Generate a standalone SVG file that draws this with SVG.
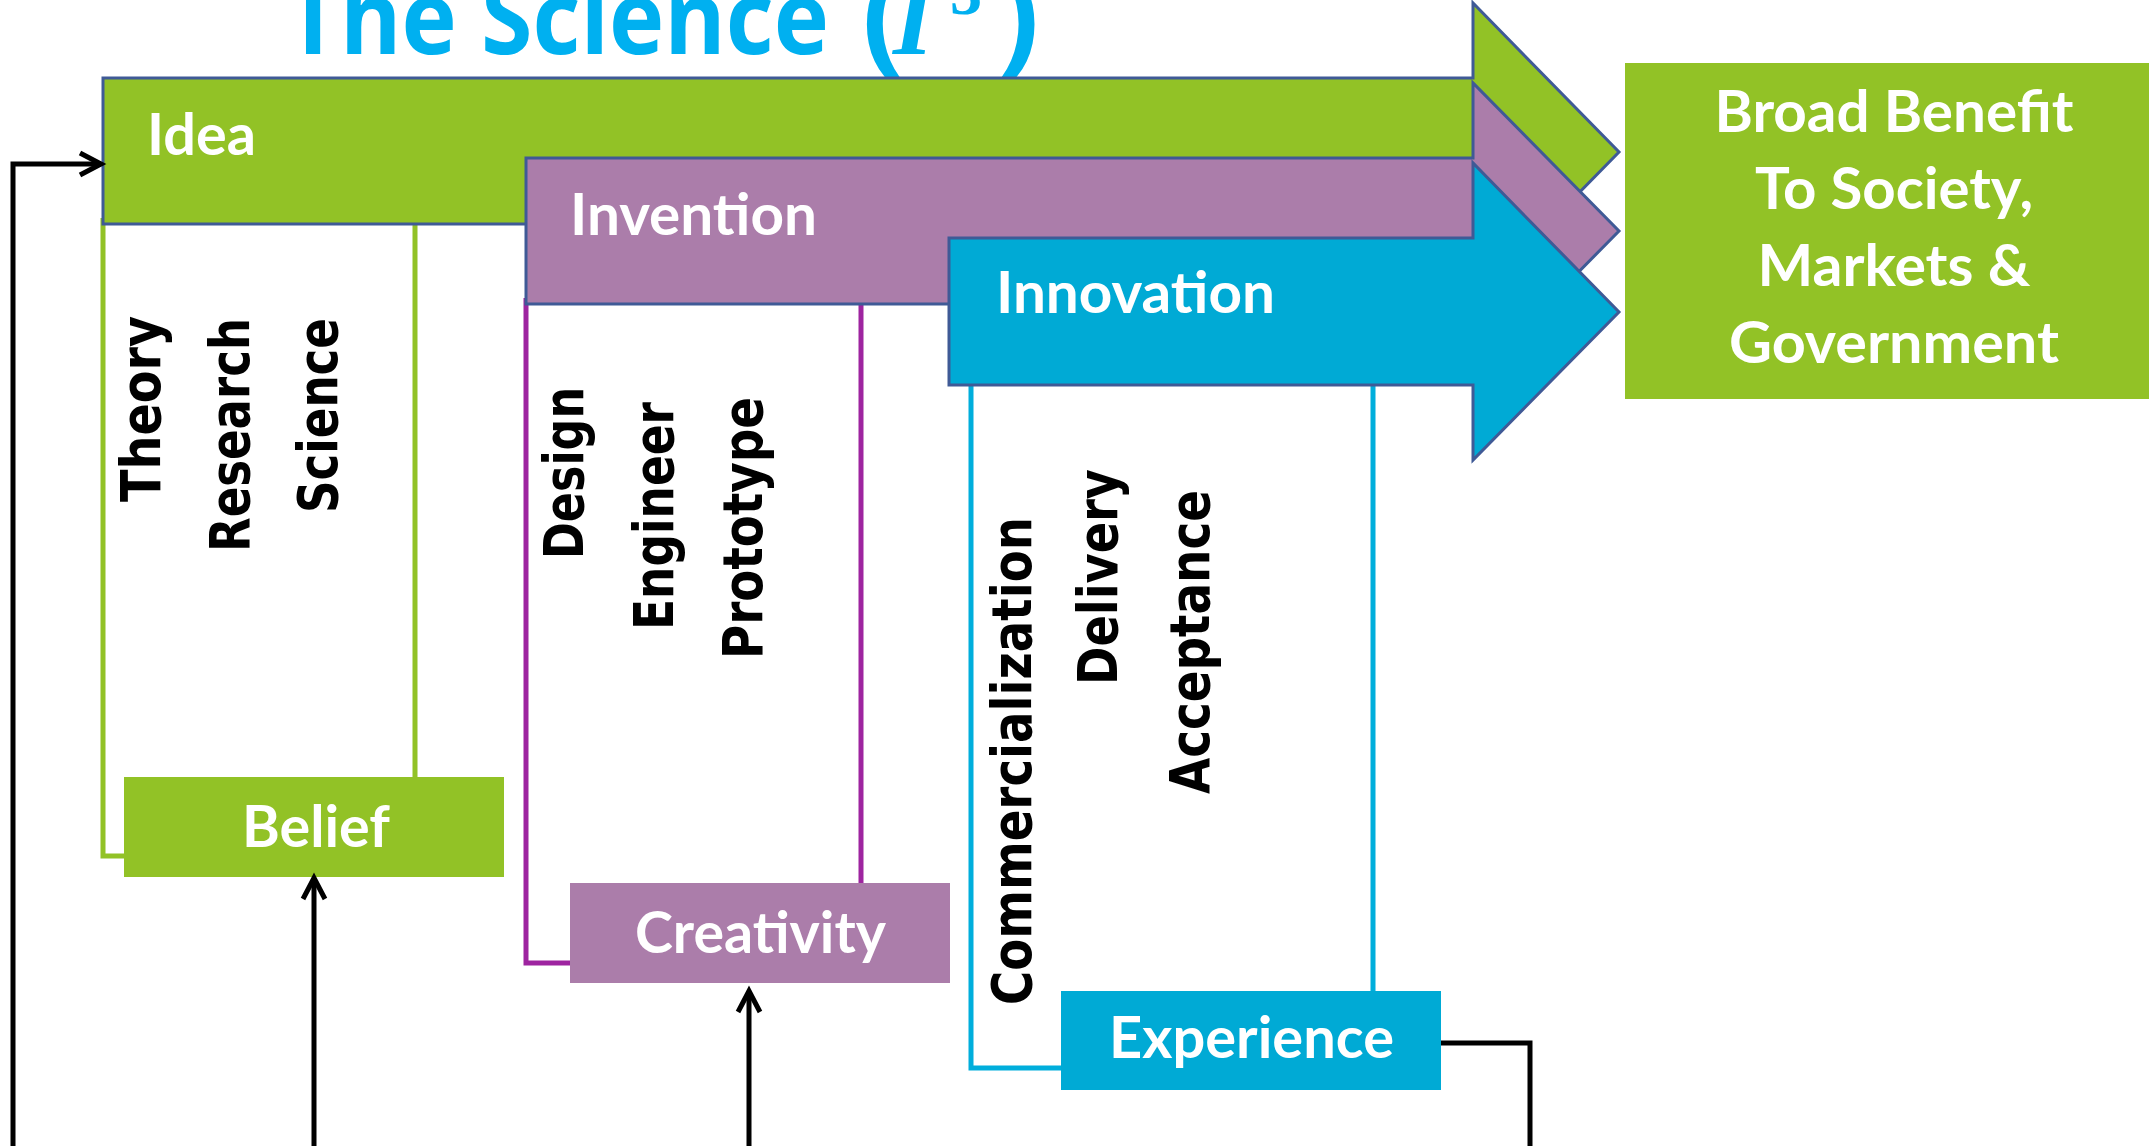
<svg xmlns="http://www.w3.org/2000/svg" width="2149" height="1146" viewBox="0 0 2149 1146">
<style>
.lbl{font-family:Lato,"Open Sans",sans-serif;font-weight:700;fill:#fff;font-size:57px}
.vt{font-family:"DejaVu Sans",Verdana,sans-serif;font-weight:700;fill:#000;font-size:56px}
.title{font-family:"Open Sans",sans-serif;font-weight:700;fill:#00B0F0}
.arr{stroke:#3F5A96;stroke-width:3;stroke-linejoin:miter}
.gl{stroke:#92C226;stroke-width:5;fill:none}
.pl{stroke:#9E24A0;stroke-width:5;fill:none}
.bl{stroke:#00AEDC;stroke-width:5;fill:none}
.conn{stroke:#000;stroke-width:5;fill:none}
</style>
<defs>
<marker id="ah" markerUnits="userSpaceOnUse" markerWidth="30" markerHeight="30" viewBox="0 0 30 30" refX="24" refY="15" orient="auto">
<path d="M3,4 L24,15 L3,26" fill="none" stroke="#000" stroke-width="5"/>
</marker>
</defs>
<rect width="2149" height="1146" fill="#fff"/>

<g id="title">
<text class="title" x="286" y="54" font-size="103" textLength="543" lengthAdjust="spacingAndGlyphs">The Science</text>
<text class="title" x="862" y="58" font-size="122" font-weight="600">(</text>
<text x="893" y="54" font-family="'Liberation Serif',serif" font-style="italic" font-weight="700" font-size="104" fill="#00B0F0">I</text>
<text x="950" y="14" font-family="'Liberation Serif',serif" font-weight="700" font-size="64" fill="#00B0F0">3</text>
<text class="title" x="998" y="58" font-size="122" font-weight="600">)</text>
</g>

<g id="brackets">
<path class="gl" d="M103,218 V856 H124"/>
<path class="gl" d="M415,218 V777"/>
<path class="pl" d="M526,298 V963 H570"/>
<path class="pl" d="M861,298 V883"/>
<path class="bl" d="M971,383 V1068 H1061"/>
<path class="bl" d="M1373,383 V991"/>
</g>

<g id="idea">
<polygon class="arr" fill="#92C226" points="103,78 1473,78 1473,3 1619,152 1473,301 1473,224 103,224"/>
<text class="lbl" x="147" y="155" textLength="109" lengthAdjust="spacingAndGlyphs">Idea</text>
</g>
<g id="invention">
<polygon class="arr" fill="#AB7DAA" points="526,158 1473,158 1473,83 1619,231 1473,379 1473,304 526,304"/>
<text class="lbl" x="570" y="235" textLength="247" lengthAdjust="spacingAndGlyphs">Invention</text>
</g>
<g id="innovation">
<polygon class="arr" fill="#00AAD5" points="949,238 1473,238 1473,163 1619,312 1473,460 1473,385 949,385"/>
<text class="lbl" x="996" y="313" textLength="279" lengthAdjust="spacingAndGlyphs">Innovation</text>
</g>

<g id="benefit">
<rect x="1625" y="63" width="524" height="336" fill="#92C226"/>
<text class="lbl" x="1894" y="132" text-anchor="middle" textLength="359" lengthAdjust="spacingAndGlyphs">Broad Benefit</text>
<text class="lbl" x="1894" y="209" text-anchor="middle" textLength="278" lengthAdjust="spacingAndGlyphs">To Society,</text>
<text class="lbl" x="1894" y="286" text-anchor="middle" textLength="273" lengthAdjust="spacingAndGlyphs">Markets &amp;</text>
<text class="lbl" x="1894" y="363" text-anchor="middle" textLength="330" lengthAdjust="spacingAndGlyphs">Government</text>
</g>

<g id="idea-steps">
<text class="vt" transform="translate(160,502) rotate(-90)" textLength="186" lengthAdjust="spacingAndGlyphs">Theory</text>
<text class="vt" transform="translate(249,552) rotate(-90)" textLength="234" lengthAdjust="spacingAndGlyphs">Research</text>
<text class="vt" transform="translate(337,513) rotate(-90)" textLength="195" lengthAdjust="spacingAndGlyphs">Science</text>
</g>
<g id="invention-steps">
<text class="vt" transform="translate(583,559) rotate(-90)" textLength="172" lengthAdjust="spacingAndGlyphs">Design</text>
<text class="vt" transform="translate(673,630) rotate(-90)" textLength="228" lengthAdjust="spacingAndGlyphs">Engineer</text>
<text class="vt" transform="translate(762,659) rotate(-90)" textLength="262" lengthAdjust="spacingAndGlyphs">Prototype</text>
</g>
<g id="innovation-steps">
<text class="vt" transform="translate(1031,1005) rotate(-90)" textLength="488" lengthAdjust="spacingAndGlyphs">Commercialization</text>
<text class="vt" transform="translate(1117,685) rotate(-90)" textLength="216" lengthAdjust="spacingAndGlyphs">Delivery</text>
<text class="vt" transform="translate(1209,794) rotate(-90)" textLength="304" lengthAdjust="spacingAndGlyphs">Acceptance</text>
</g>

<g id="belief">
<rect x="124" y="777" width="380" height="100" fill="#92C226"/>
<text class="lbl" x="242" y="847" textLength="148" lengthAdjust="spacingAndGlyphs">Belief</text>
</g>
<g id="creativity">
<rect x="570" y="883" width="380" height="100" fill="#AB7DAA"/>
<text class="lbl" x="635" y="953" textLength="251" lengthAdjust="spacingAndGlyphs">Creativity</text>
</g>
<g id="experience">
<rect x="1061" y="991" width="380" height="99" fill="#00AAD5"/>
<text class="lbl" x="1109" y="1058" textLength="285" lengthAdjust="spacingAndGlyphs">Experience</text>
</g>

<g id="connectors">
<path class="conn" d="M13,1146 V164 H101" marker-end="url(#ah)"/>
<path class="conn" d="M314,1146 V878" marker-end="url(#ah)"/>
<path class="conn" d="M749,1146 V991" marker-end="url(#ah)"/>
<path class="conn" d="M1441,1043 H1530 V1146"/>
</g>
</svg>
